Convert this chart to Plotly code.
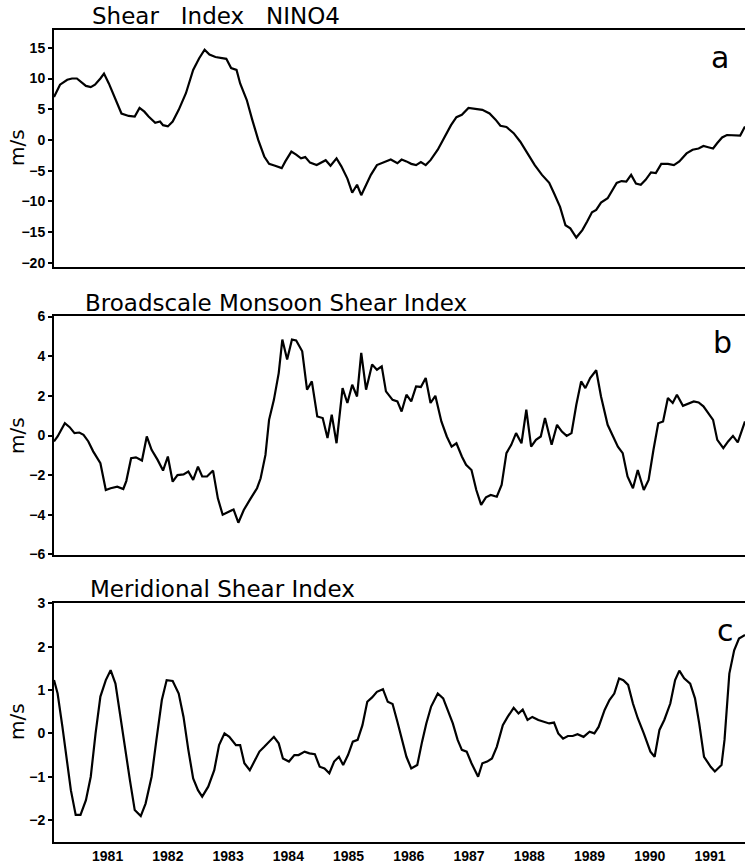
import plotly.graph_objects as go

# ---------------- data ----------------
years_a = [1980.11,1980.21,1980.33,1980.41,1980.49,1980.56,1980.64,1980.72,1980.79,1980.88,1980.94,1981.02,
           1981.12,1981.23,1981.35,1981.45,1981.53,1981.61,1981.68,1981.79,1981.87,1981.92,1982.00,1982.08,
           1982.18,1982.30,1982.42,1982.52,1982.61,1982.69,1982.79,1982.89,1982.97,1983.05,1983.14,1983.20,
           1983.31,1983.40,1983.50,1983.60,1983.68,1983.78,1983.89,1983.95,1984.05,1984.13,1984.21,1984.28,
           1984.36,1984.47,1984.54,1984.62,1984.70,1984.80,1984.88,1984.98,1985.06,1985.14,1985.21,1985.31,
           1985.37,1985.47,1985.55,1985.65,1985.70,1985.81,1985.88,1985.96,1986.04,1986.12,1986.20,1986.28,
           1986.36,1986.48,1986.59,1986.70,1986.79,1986.88,1986.99,1987.11,1987.22,1987.34,1987.44,1987.52,
           1987.62,1987.74,1987.85,1987.97,1988.09,1988.21,1988.33,1988.41,1988.51,1988.60,1988.68,1988.78,
           1988.88,1988.96,1989.04,1989.11,1989.19,1989.30,1989.37,1989.45,1989.53,1989.61,1989.69,1989.77,
           1989.85,1989.93,1990.02,1990.10,1990.19,1990.30,1990.40,1990.49,1990.61,1990.71,1990.81,1990.89,
           1990.97,1991.05,1991.12,1991.20,1991.28,1991.40,1991.50,1991.58]
nino4_shear = [7.0,9.0,9.8,10.0,10.0,9.5,8.8,8.6,9.0,10.0,10.8,9.2,
               7.0,4.3,3.9,3.8,5.2,4.6,3.8,2.8,3.0,2.4,2.2,3.0,
               4.9,7.6,11.4,13.3,14.7,13.9,13.5,13.3,13.2,11.7,11.4,9.2,
               6.5,3.3,0.0,-2.7,-3.9,-4.2,-4.6,-3.5,-1.9,-2.4,-3.0,-2.8,
               -3.7,-4.1,-3.7,-3.3,-4.2,-3.0,-4.3,-6.3,-8.6,-7.3,-9.0,-7.1,
               -5.7,-4.1,-3.8,-3.3,-3.2,-3.8,-3.2,-3.5,-3.9,-4.1,-3.6,-4.1,
               -3.3,-1.6,0.5,2.4,3.7,4.1,5.2,5.0,4.9,4.3,3.3,2.3,
               2.1,1.1,-0.3,-2.2,-4.1,-5.7,-7.0,-8.7,-10.9,-13.9,-14.4,-15.9,
               -14.7,-13.3,-11.8,-11.4,-10.2,-9.5,-8.4,-7.0,-6.7,-6.8,-5.7,-7.1,
               -7.3,-6.5,-5.3,-5.4,-3.9,-3.9,-4.1,-3.5,-2.2,-1.6,-1.4,-1.0,
               -1.2,-1.4,-0.5,0.4,0.8,0.8,0.7,2.2]

years_b = [1980.11,1980.17,1980.29,1980.37,1980.45,1980.53,1980.60,1980.68,1980.76,1980.88,1980.97,1981.05,
           1981.16,1981.26,1981.31,1981.39,1981.47,1981.57,1981.65,1981.73,1981.83,1981.92,1982.00,1982.08,
           1982.16,1982.26,1982.34,1982.42,1982.50,1982.57,1982.65,1982.75,1982.83,1982.91,1983.01,1983.09,
           1983.17,1983.26,1983.36,1983.48,1983.54,1983.62,1983.68,1983.76,1983.84,1983.90,1983.98,1984.06,
           1984.13,1984.23,1984.31,1984.39,1984.48,1984.57,1984.65,1984.72,1984.80,1984.90,1984.98,1985.06,
           1985.14,1985.21,1985.29,1985.39,1985.47,1985.55,1985.62,1985.73,1985.81,1985.88,1985.96,1986.04,
           1986.12,1986.20,1986.28,1986.36,1986.44,1986.54,1986.63,1986.71,1986.79,1986.88,1986.95,1987.04,
           1987.12,1987.20,1987.28,1987.36,1987.46,1987.54,1987.62,1987.70,1987.78,1987.87,1987.95,1988.03,
           1988.11,1988.19,1988.26,1988.37,1988.46,1988.54,1988.62,1988.70,1988.78,1988.86,1988.93,1989.01,
           1989.11,1989.19,1989.30,1989.39,1989.47,1989.55,1989.63,1989.72,1989.80,1989.90,1989.98,1990.06,
           1990.14,1990.22,1990.30,1990.38,1990.45,1990.55,1990.65,1990.73,1990.81,1990.89,1990.97,1991.05,
           1991.12,1991.22,1991.30,1991.38,1991.46,1991.58]
monsoon_shear = [-0.30,-0.05,0.62,0.42,0.12,0.15,0.03,-0.30,-0.80,-1.40,-2.75,-2.66,
                 -2.58,-2.70,-2.30,-1.15,-1.10,-1.26,-0.05,-0.72,-1.23,-1.77,-1.06,-2.33,
                 -2.00,-1.96,-1.82,-2.24,-1.57,-2.07,-2.07,-1.77,-3.17,-4.00,-3.85,-3.73,
                 -4.40,-3.76,-3.25,-2.66,-2.16,-0.98,0.79,1.80,3.15,4.84,3.83,4.84,
                 4.80,4.25,2.31,2.73,0.96,0.88,-0.13,1.05,-0.39,2.39,1.64,2.56,
                 1.97,4.17,2.31,3.58,3.32,3.49,2.23,1.80,1.72,1.21,2.06,1.72,
                 2.48,2.45,2.90,1.64,2.00,0.71,-0.05,-0.56,-0.39,-1.06,-1.48,-1.74,
                 -2.75,-3.50,-3.12,-3.00,-3.09,-2.50,-0.89,-0.47,0.12,-0.39,1.30,-0.56,
                 -0.22,-0.05,0.88,-0.47,0.54,0.20,-0.02,0.12,1.55,2.73,2.39,2.90,
                 3.29,1.97,0.54,-0.05,-0.56,-0.89,-2.07,-2.66,-1.74,-2.75,-2.24,-0.73,
                 0.62,0.71,1.89,1.64,2.06,1.50,1.64,1.72,1.67,1.47,1.13,0.79,
                 -0.22,-0.64,-0.30,-0.02,-0.35,0.71]

years_c = [1980.11,1980.17,1980.25,1980.33,1980.39,1980.47,1980.55,1980.64,1980.72,1980.80,1980.88,1980.97,
           1981.05,1981.13,1981.21,1981.29,1981.37,1981.45,1981.55,1981.63,1981.73,1981.81,1981.90,1981.98,
           1982.08,1982.18,1982.26,1982.34,1982.42,1982.50,1982.57,1982.67,1982.77,1982.85,1982.94,1983.02,
           1983.13,1983.20,1983.27,1983.36,1983.44,1983.52,1983.60,1983.68,1983.76,1983.84,1983.91,1984.01,
           1984.10,1984.17,1984.27,1984.35,1984.44,1984.52,1984.60,1984.68,1984.76,1984.84,1984.91,1984.99,
           1985.07,1985.15,1985.23,1985.31,1985.39,1985.47,1985.57,1985.65,1985.73,1985.81,1985.88,1985.96,
           1986.04,1986.14,1986.22,1986.29,1986.37,1986.48,1986.57,1986.65,1986.73,1986.81,1986.88,1986.96,
           1987.04,1987.15,1987.22,1987.30,1987.38,1987.46,1987.56,1987.64,1987.74,1987.82,1987.89,1987.97,
           1988.05,1988.15,1988.25,1988.33,1988.41,1988.48,1988.56,1988.64,1988.72,1988.80,1988.90,1989.00,
           1989.08,1989.15,1989.25,1989.33,1989.41,1989.49,1989.56,1989.64,1989.72,1989.80,1989.90,1990.01,
           1990.08,1990.16,1990.24,1990.34,1990.42,1990.49,1990.57,1990.67,1990.75,1990.82,1990.90,1991.01,
           1991.08,1991.19,1991.24,1991.32,1991.40,1991.48,1991.58]
meridional_shear = [1.23,0.92,0.15,-0.62,-1.31,-1.88,-1.88,-1.54,-1.00,0.00,0.85,1.23,
                    1.46,1.15,0.38,-0.38,-1.08,-1.77,-1.91,-1.62,-1.00,-0.15,0.77,1.23,
                    1.21,0.92,0.38,-0.38,-1.04,-1.31,-1.46,-1.23,-0.85,-0.27,0.00,-0.08,
                    -0.27,-0.27,-0.69,-0.85,-0.65,-0.42,-0.31,-0.19,-0.08,-0.23,-0.58,-0.65,
                    -0.50,-0.50,-0.42,-0.46,-0.48,-0.77,-0.81,-0.92,-0.65,-0.54,-0.73,-0.50,
                    -0.19,-0.15,0.19,0.73,0.83,0.96,1.02,0.73,0.68,0.27,-0.08,-0.54,
                    -0.81,-0.73,-0.19,0.23,0.62,0.92,0.81,0.54,0.23,-0.15,-0.38,-0.42,
                    -0.69,-1.00,-0.69,-0.65,-0.58,-0.31,0.19,0.38,0.59,0.46,0.55,0.31,
                    0.38,0.31,0.27,0.23,0.25,0.00,-0.12,-0.06,-0.06,-0.02,-0.08,0.04,
                    0.00,0.15,0.54,0.77,0.92,1.27,1.23,1.12,0.69,0.35,0.00,-0.42,
                    -0.54,0.08,0.31,0.69,1.23,1.45,1.27,1.15,0.81,0.23,-0.54,-0.77,
                    -0.88,-0.73,-0.15,1.38,1.92,2.19,2.27]

panel_titles = ["Shear   Index   NINO4", "Broadscale Monsoon Shear Index", "Meridional Shear Index"]
panel_letters = ["a", "b", "c"]
year_ticks = list(range(1981, 1992))
ticks_a = [-20, -15, -10, -5, 0, 5, 10, 15]
ticks_b = [-6, -4, -2, 0, 2, 4, 6]
ticks_c = [-2, -1, 0, 1, 2, 3]

# ---------------- figure ----------------
W, H = 745, 863
L = 54

def fy(px):
    return (H - px) / H

def fx(px):
    return (px - L) / (W - L)

tick_font = dict(family="Liberation Sans, Arial, sans-serif", size=14, color="black", weight="bold")
title_font = dict(family="DejaVu Sans, sans-serif", size=23, color="black")

fig = go.Figure()
line = dict(color="black", width=2.2)
fig.add_trace(go.Scatter(x=years_a, y=nino4_shear, mode="lines", line=line, xaxis="x", yaxis="y"))
fig.add_trace(go.Scatter(x=years_b, y=monsoon_shear, mode="lines", line=line, xaxis="x2", yaxis="y2"))
fig.add_trace(go.Scatter(x=years_c, y=meridional_shear, mode="lines", line=line, xaxis="x3", yaxis="y3"))

xrange = [1980.11, 1991.58]
domains = [[fy(267), fy(30)], [fy(555), fy(316)], [fy(841.7), fy(603)]]
yranges = [[-20.7, 17.9], [-6.03, 6.03], [-2.5, 3.01]]
ytick_sets = [ticks_a, ticks_b, ticks_c]

layout = dict(
    width=W, height=H,
    margin=dict(l=L, r=0, t=0, b=0),
    paper_bgcolor="white", plot_bgcolor="white",
    showlegend=False,
)
for i in range(3):
    xs = "xaxis" if i == 0 else f"xaxis{i+1}"
    ys = "yaxis" if i == 0 else f"yaxis{i+1}"
    yid = "y" if i == 0 else f"y{i+1}"
    xid = "x" if i == 0 else f"x{i+1}"
    layout[xs] = dict(
        domain=[0, 1], anchor=yid, range=xrange,
        showline=True, linecolor="black", linewidth=2, mirror=True,
        showgrid=False, zeroline=False,
        tickmode="array", tickvals=year_ticks,
        ticktext=[str(y) for y in year_ticks] if i == 2 else [""] * len(year_ticks),
        ticks="", tickfont=tick_font, automargin=False,
    )
    layout[ys] = dict(
        domain=domains[i], anchor=xid, range=yranges[i],
        showline=True, linecolor="black", linewidth=2, mirror=False,
        showgrid=False, zeroline=False,
        tickmode="array", tickvals=ytick_sets[i],
        ticks="outside", ticklen=4, tickwidth=1.5, tickcolor="black",
        tickfont=tick_font, automargin=False,
    )
fig.update_layout(**layout)

# titles, y-labels and panel letters (reference pixel positions)
title_y = [16, 303, 589]
title_x = [90, 83, 88]
letter_pos = [(720, 58), (722, 342), (725, 630)]
ylab_y = [148, 436, 722]
for i in range(3):
    fig.add_annotation(text=panel_titles[i], xref="paper", yref="paper",
                       x=fx(title_x[i]), y=fy(title_y[i]),
                       xanchor="left", yanchor="middle", showarrow=False, font=title_font)
    fig.add_annotation(text=panel_letters[i], xref="paper", yref="paper",
                       x=fx(letter_pos[i][0]), y=fy(letter_pos[i][1]),
                       xanchor="center", yanchor="middle", showarrow=False,
                       font=dict(family="DejaVu Sans, sans-serif", size=30, color="black"))
    fig.add_annotation(text="m/s", xref="paper", yref="paper",
                       x=fx(17), y=fy(ylab_y[i]),
                       xanchor="center", yanchor="middle", showarrow=False, textangle=-90,
                       font=dict(family="DejaVu Sans, sans-serif", size=20, color="black"))

# remove the browser's default 8 px page margin so the figure sits at (0, 0)
fig.write_html("out.html",
               config={"displayModeBar": False},
               post_script="document.body.style.margin='0px';document.body.style.overflow='hidden';")
